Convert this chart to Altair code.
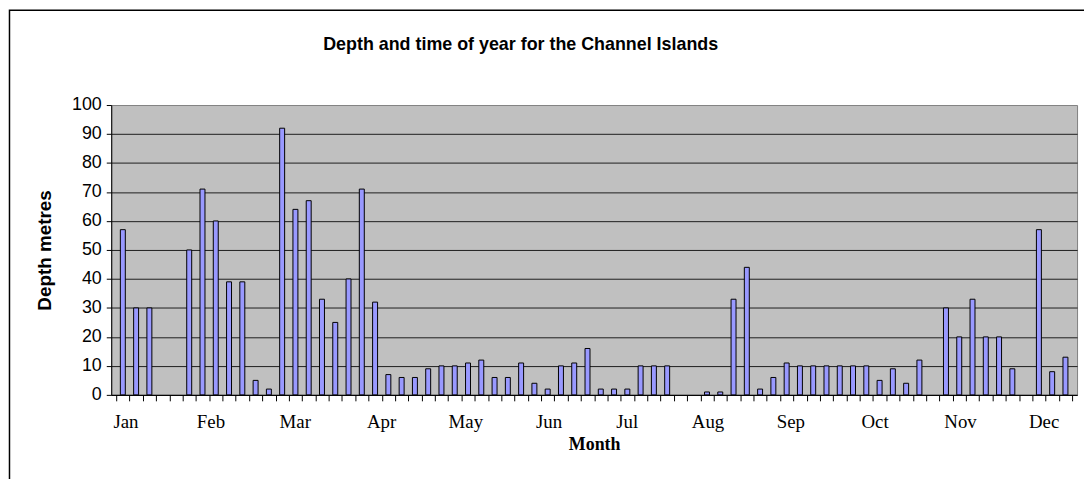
import altair as alt
import pandas as pd

# ---- data ----
months = ["Jan", "Feb", "Mar", "Apr", "May", "Jun",
          "Jul", "Aug", "Sep", "Oct", "Nov", "Dec"]
# position of each month label along the category slots
month_pos = [0.2, 6.6, 12.95, 19.45, 25.8, 32.07,
             37.95, 44.04, 50.28, 56.62, 63.06, 69.36]
# depth per category slot (None = no bar)
depths = [57, 30, 30, None, None, 50, 71, 60, 39, 39, 5, 2,
          92, 64, 67, 33, 25, 40, 71, 32, 7, 6, 6, 9,
          10, 10, 11, 12, 6, 6, 11, 4, 2, 10, 11, 16,
          2, 2, 2, 10, 10, 10, None, None, 1, 1, 33, 44,
          2, 6, 11, 10, 10, 10, 10, 10, 10, 5, 9, 4,
          12, None, 30, 20, 33, 20, 20, 9, None, 57, 8, 13]
y_ticks = list(range(0, 101, 10))

n_slots = len(depths)
df = pd.DataFrame({"slot": list(range(n_slots)), "depth": depths}).dropna()

slot_edges = [i - 0.5 for i in range(n_slots + 1)]
x_values = sorted(slot_edges + month_pos)

mp = "[" + ",".join(str(v) for v in month_pos) + "]"
mn = "[" + ",".join("'" + m + "'" for m in months) + "]"
label_expr = f"indexof({mp}, datum.value) >= 0 ? {mn}[indexof({mp}, datum.value)] : ''"
is_month = f"indexof({mp}, datum.value) >= 0"

W, H = 973, 292

bars = alt.Chart(df).mark_bar(
    size=5, color="#9999FF", stroke="#000000", strokeWidth=1
).encode(
    x=alt.X("slot:Q",
            scale=alt.Scale(domain=[-0.5, n_slots - 0.5], nice=False, zero=False),
            axis=alt.Axis(
                title="Month", values=x_values, labelExpr=label_expr,
                labelOverlap=False, labelFlush=False, labelBound=False,
                grid=False, tickSize=6, tickColor="#000000",
                tickOpacity={"condition": {"test": is_month, "value": 0}, "value": 1},
                domainColor="#000000", labelColor="#000000",
                labelFont="Liberation Serif", labelFontSize=19, labelPadding=12,
                titleFont="Liberation Serif", titleFontSize=18, titleFontWeight="bold",
                titleColor="#000000", titlePadding=4,
            )),
    y=alt.Y("depth:Q",
            scale=alt.Scale(domain=[0, 100], nice=False),
            axis=alt.Axis(
                title="Depth metres", values=y_ticks, grid=True,
                gridColor="#000000",
                gridOpacity={"condition": {"test": "datum.value >= 100", "value": 0}, "value": 0.85},
                tickSize=5, tickColor="#000000", domainColor="#000000",
                labelColor="#000000", labelFont="Liberation Sans", labelFontSize=18,
                labelPadding=5,
                titleFont="Liberation Sans", titleFontSize=19, titleFontWeight="bold",
                titleColor="#000000", titlePadding=17,
            )),
)

frame = alt.Chart(pd.DataFrame({"k": [0]})).mark_rect(
    fillOpacity=0, stroke="#000000", strokeWidth=1.5
).encode(
    x=alt.value(-102.5), x2=alt.value(1100),
    y=alt.value(-95.5), y2=alt.value(500),
)

chart = alt.layer(bars, frame).properties(
    width=W, height=H,
    title=alt.TitleParams(
        "Depth and time of year for the Channel Islands",
        font="Liberation Sans", fontSize=18, fontWeight="bold", color="#000000",
        anchor="middle", frame="group", dx=-74, offset=-45,
    ),
    autosize=alt.AutoSizeParams(type="none"),
    padding={"left": 104, "top": 96, "right": 7, "bottom": 83},
    background="#FFFFFF",
).configure_view(
    fill="#C0C0C0", stroke="#808080", strokeWidth=1
)

chart.save("out.html", embed_options={"renderer": "svg", "actions": False})
